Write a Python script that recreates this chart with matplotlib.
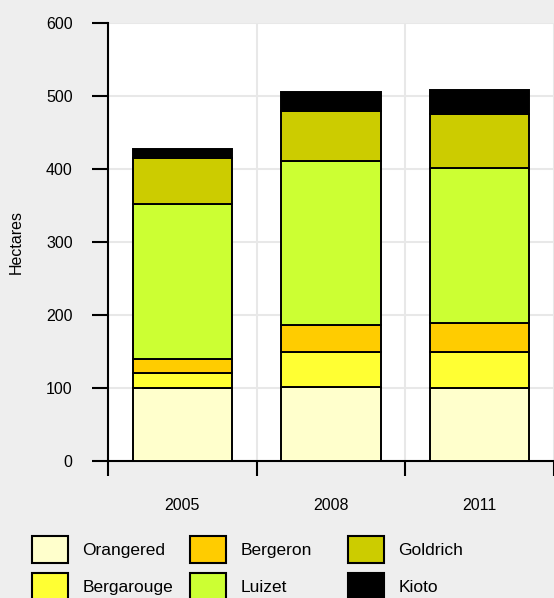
import numpy as np
import matplotlib.pyplot as plt
from matplotlib.patches import Patch

plt.rcParams['font.family'] = ['Liberation Sans', 'DejaVu Sans']

years = ['2005', '2008', '2011']
varieties = ['Orangered', 'Bergarouge', 'Bergeron', 'Luizet', 'Goldrich', 'Kioto']
colors = ['#ffffcc', '#ffff33', '#ffcc00', '#ccff33', '#cccc00', '#000000']

orangered = [100, 101, 100]
bergarouge = [21, 49, 50]
bergeron = [19, 36, 39]
luizet = [212, 225, 213]
goldrich = [63, 69, 74]
kioto = [12, 26, 32]
series = [orangered, bergarouge, bergeron, luizet, goldrich, kioto]

bg = '#eeeeee'
fig = plt.figure(figsize=(5.54, 5.98), dpi=100, facecolor=bg)
ax = fig.add_axes([108 / 554, 1 - 461 / 598, 1 - 108 / 554, (461 - 23) / 598])
ax.set_facecolor('white')

x = np.arange(len(years))
bottom = np.zeros(len(years))
for name, vals, c in zip(varieties, series, colors):
    ax.bar(x, vals, 0.67, bottom=bottom, color=c, edgecolor='black',
           linewidth=1.4, label=name, zorder=3)
    bottom += np.array(vals)

ax.set_xlim(-0.5, 2.5)
ax.set_ylim(0, 600)
ax.set_yticks(range(0, 601, 100))
ax.set_xticks(x)
ax.set_xticklabels(years)
ax.set_xticks(np.arange(-0.5, 2.6, 1), minor=True)
ax.tick_params(axis='x', which='major', length=0, labelsize=11.5, pad=27)
ax.tick_params(axis='x', which='minor', length=11, width=1.5, color='black', direction='out')
ax.tick_params(axis='y', length=11.5, width=1.5, labelsize=11.5, pad=14)

ax.grid(False)
ax.yaxis.grid(True, color='#e8e8e8', linewidth=1.5, zorder=0)
ax.xaxis.grid(True, which='minor', color='#e8e8e8', linewidth=1.5, zorder=0)
ax.set_axisbelow(True)

for s in ['top', 'right']:
    ax.spines[s].set_visible(False)
for s in ['left', 'bottom']:
    ax.spines[s].set_linewidth(1.5)
    ax.spines[s].set_color('black')

ax.set_ylabel('Hectares', fontsize=11.5)
ax.yaxis.set_label_coords(-0.188, 0.5)

# legend: three columns placed separately
handles = [Patch(facecolor=c, edgecolor='black', linewidth=1.5) for c in colors]
col_x = [32, 190, 348]
for i, cx in enumerate(col_x):
    leg = fig.legend(handles[2 * i:2 * i + 2], varieties[2 * i:2 * i + 2],
                     loc='upper left', bbox_to_anchor=(cx / 554, 1 - 536 / 598),
                     frameon=False, fontsize=12.5, handlelength=2.1, handleheight=2.05,
                     handletextpad=0.8, labelspacing=0.55, borderpad=0, borderaxespad=0)

plt.savefig('out.png', dpi=100, facecolor=bg)
